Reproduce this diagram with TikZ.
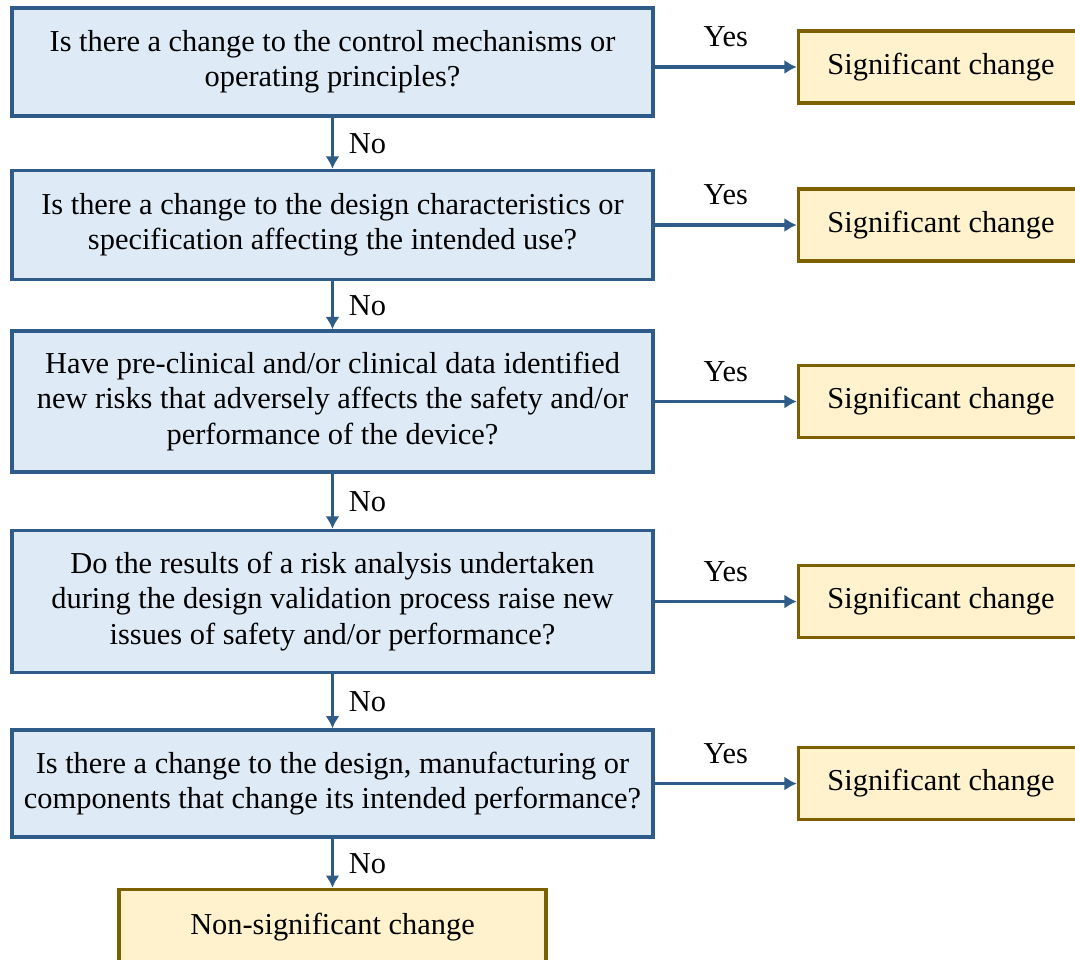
\documentclass[tikz,border=0pt]{standalone}
\usepackage{fontspec}
\setmainfont{Liberation Serif}
\usetikzlibrary{positioning,arrows.meta}
\definecolor{qfill}{HTML}{DEEAF6}
\definecolor{qdraw}{HTML}{2E5B87}
\definecolor{afill}{HTML}{FFF2CC}
\definecolor{adraw}{HTML}{7F6000}

\begin{document}
\begin{tikzpicture}[
	question/.style={draw=qdraw, fill=qfill, line width=2pt, minimum width=12.82cm, align=center, font=\fontsize{17.3}{20}\selectfont},
	answer/.style={draw=adraw, fill=afill, line width=2pt, minimum height=1.44cm, font=\fontsize{17.3}{20}\selectfont},
	flow/.style={draw=qdraw, line width=2pt, -{Latex[length=7pt,width=8pt]}},
	lbl/.style={font=\fontsize{17.3}{20}\selectfont}]
	\useasboundingbox (0,0) rectangle (21.5,-19.2);
	\node[question, minimum height=2.16cm] (q1) at (6.65,-1.24) {Is there a change to the control mechanisms or\\operating principles?};
	\node[question, minimum height=2.18cm, below=1.02cm of q1] (q2) {Is there a change to the design characteristics or\\specification affecting the intended use?};
	\node[question, minimum height=2.82cm, below=0.96cm of q2] (q3) {Have pre-clinical and/or clinical data identified\\new risks that adversely affects the safety and/or\\performance of the device?};
	\node[question, minimum height=2.84cm, below=1.1cm of q3] (q4) {Do the results of a risk analysis undertaken\\during the design validation process raise new\\issues of safety and/or performance?};
	\node[question, minimum height=2.14cm, below=1.08cm of q4] (q5) {Is there a change to the design, manufacturing or\\components that change its intended performance?};
	\node[answer, minimum width=8.55cm, minimum height=1.48cm, below=0.98cm of q5] (nonsig) {Non-significant change};
	%
	\node[answer, minimum width=5.7cm, right=2.84cm of q1, yshift=-0.1cm] (sig1) {Significant change};
	\node[answer, minimum width=5.7cm, right=2.84cm of q2] (sig2) {Significant change};
	\node[answer, minimum width=5.7cm, right=2.84cm of q3] (sig3) {Significant change};
	\node[answer, minimum width=5.7cm, right=2.84cm of q4] (sig4) {Significant change};
	\node[answer, minimum width=5.7cm, right=2.84cm of q5] (sig5) {Significant change};
	%
	\draw[flow] (q1.east |- sig1) -- node[lbl, above=7pt] {Yes} (sig1);
	\draw[flow] (q2) -- node[lbl, above=7pt] {Yes} (sig2);
	\draw[flow] (q3) -- node[lbl, above=7pt] {Yes} (sig3);
	\draw[flow] (q4) -- node[lbl, above=7pt] {Yes} (sig4);
	\draw[flow] (q5) -- node[lbl, above=7pt] {Yes} (sig5);
	\draw[flow] (q1) -- node[lbl, right=5pt] {No} (q2);
	\draw[flow] (q2) -- node[lbl, right=5pt] {No} (q3);
	\draw[flow] (q3) -- node[lbl, right=5pt] {No} (q4);
	\draw[flow] (q4) -- node[lbl, right=5pt] {No} (q5);
	\draw[flow] (q5) -- node[lbl, right=5pt] {No} (nonsig);
\end{tikzpicture}
\end{document}
